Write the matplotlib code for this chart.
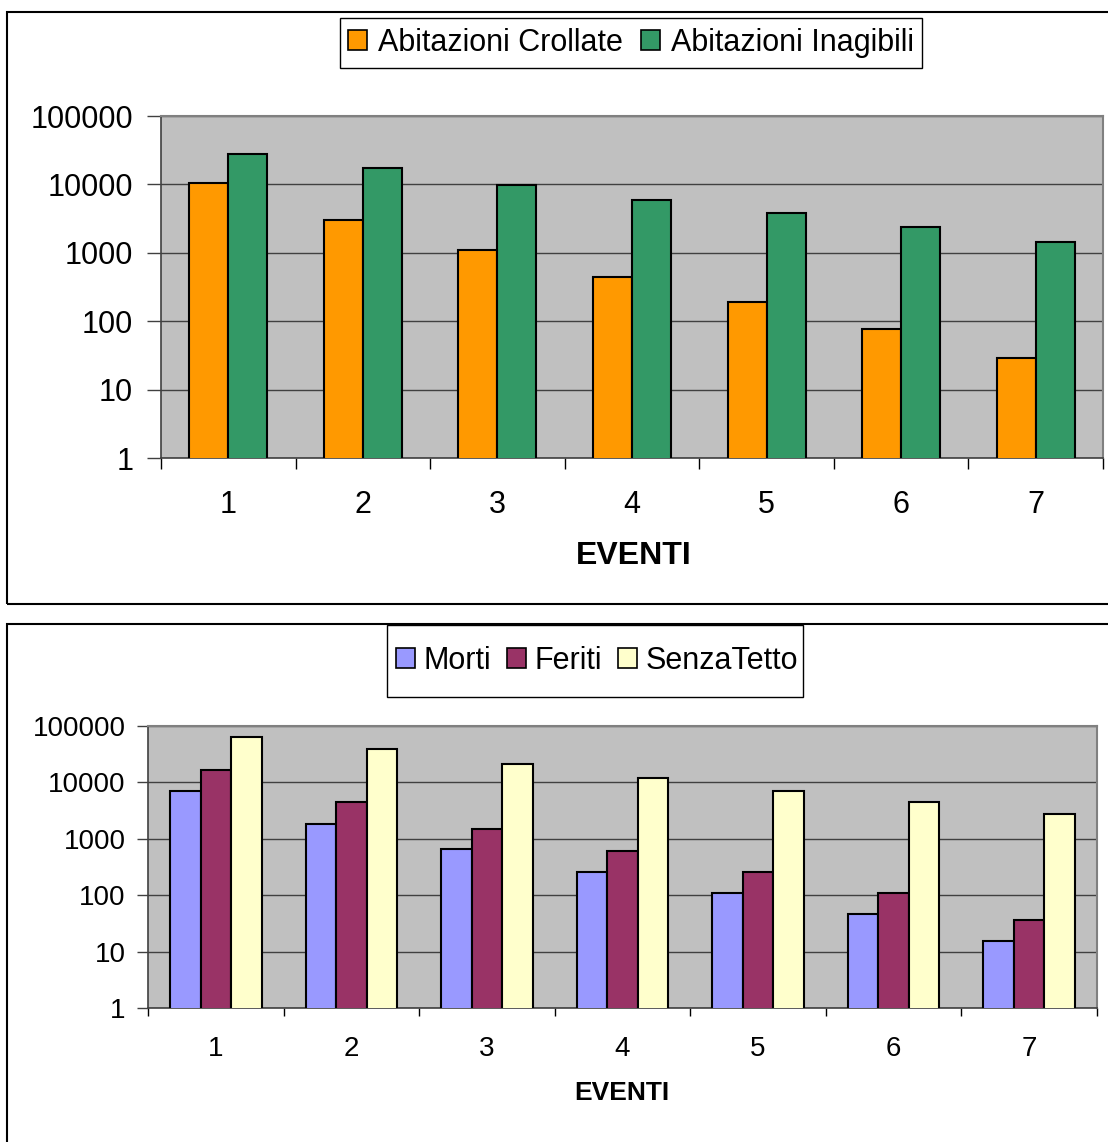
"""Two log-scale bar charts: abitazioni crollate/inagibili and morti/feriti/senzatetto per evento."""

import matplotlib
import matplotlib.pyplot as plt
import numpy as np
from matplotlib.patches import Patch, Rectangle

matplotlib.use("Agg")

plt.rcParams["font.family"] = ["Liberation Sans", "DejaVu Sans"]

W, H = 1108, 1142

eventi = ["1", "2", "3", "4", "5", "6", "7"]

crollate = [10500, 3000, 1100, 440, 190, 77, 29]
inagibili = [27500, 17400, 9800, 5900, 3800, 2400, 1440]

morti = [7000, 1820, 660, 260, 110, 47, 15.5]
feriti = [16600, 4500, 1500, 610, 260, 110, 36]
senzatetto = [63500, 39000, 21000, 12000, 7000, 4500, 2750]

y_ticks = [1, 10, 100, 1000, 10000, 100000]
y_labels = ["1", "10", "100", "1000", "10000", "100000"]


def px_axes(fig, left, top, right, bottom):
    return fig.add_axes([left / W, 1 - bottom / H, (right - left) / W, (bottom - top) / H])


def px_box(fig, left, top, right, bottom, lw=1.0):
    fig.patches.append(Rectangle((left / W, 1 - bottom / H), (right - left) / W, (bottom - top) / H,
                                 transform=fig.transFigure, fill=False, edgecolor="black",
                                 linewidth=lw, zorder=5))


def style_axes(ax, fontsize, ytick_len, ytick_pad, xpad):
    ax.set_facecolor("#C0C0C0")
    ax.set_yscale("log")
    ax.set_ylim(1, 100000)
    ax.set_xlim(-0.5, len(eventi) - 0.5)
    ax.set_yticks(y_ticks)
    ax.set_yticklabels(y_labels)
    ax.yaxis.set_minor_locator(matplotlib.ticker.NullLocator())
    ax.set_xticks(np.arange(len(eventi)))
    ax.set_xticklabels(eventi)
    ax.set_xticks(np.arange(len(eventi) + 1) - 0.5, minor=True)
    ax.tick_params(axis="x", which="major", length=0, labelsize=fontsize, pad=xpad)
    ax.tick_params(axis="x", which="minor", length=ytick_len - 2, width=1, color="#000000", direction="out")
    ax.tick_params(axis="y", which="major", length=ytick_len, width=1, color="#404040",
                   labelsize=fontsize, pad=ytick_pad)
    ax.grid(axis="y", which="major", color="#404040", linewidth=1.0)
    ax.set_axisbelow(True)
    for side in ("top", "right"):
        ax.spines[side].set_color("#808080")
        ax.spines[side].set_linewidth(1.5)
    for side in ("left", "bottom"):
        ax.spines[side].set_color("#404040")
        ax.spines[side].set_linewidth(1.2)


def main() -> None:
    fig = plt.figure(figsize=(W / 100, H / 100), dpi=100)
    fig.patch.set_facecolor("white")

    # panel frames
    fig.patches.append(Rectangle((7 / W, 1 - 604 / H), 1.2, (604 - 12) / H, transform=fig.transFigure,
                                 fill=False, edgecolor="#000000", linewidth=1.5))
    fig.patches.append(Rectangle((7 / W, -0.1), 1.2, 0.1 + (1142 - 624) / H, transform=fig.transFigure,
                                 fill=False, edgecolor="#000000", linewidth=1.5))

    # top chart
    ax1 = px_axes(fig, 161, 116, 1103, 458)
    x = np.arange(len(eventi))
    bw = 0.29
    ax1.bar(x - bw / 2, crollate, bw, color="#FF9900", edgecolor="black", linewidth=1.5, zorder=3)
    ax1.bar(x + bw / 2, inagibili, bw, color="#339966", edgecolor="black", linewidth=1.5, zorder=3)
    style_axes(ax1, 22, 10, 10, 23)
    fig.text(634 / W, 1 - 556 / H, "EVENTI", ha="center", va="center", fontsize=23, fontweight="bold")

    h1 = [Patch(facecolor="#FF9900", edgecolor="black", linewidth=1.2),
          Patch(facecolor="#339966", edgecolor="black", linewidth=1.2)]
    fig.legend(h1, ["Abitazioni Crollate", "Abitazioni Inagibili"], loc="center",
               bbox_to_anchor=(631 / W, 1 - 43 / H), ncol=2, fontsize=22, frameon=False,
               handlelength=0.62, handleheight=0.62, handletextpad=0.35,
               columnspacing=0.6, borderpad=0.3, borderaxespad=0)
    px_box(fig, 340, 18, 922, 68)

    # bottom chart
    ax2 = px_axes(fig, 148, 726, 1097, 1008)
    bw2 = 0.225
    ax2.bar(x - bw2, morti, bw2, color="#9999FF", edgecolor="black", linewidth=1.5, zorder=3)
    ax2.bar(x, feriti, bw2, color="#993366", edgecolor="black", linewidth=1.5, zorder=3)
    ax2.bar(x + bw2, senzatetto, bw2, color="#FFFFCC", edgecolor="black", linewidth=1.5, zorder=3)
    style_axes(ax2, 20, 8, 8, 20)
    fig.text(622 / W, 1 - 1093 / H, "EVENTI", ha="center", va="center", fontsize=19, fontweight="bold")

    h2 = [Patch(facecolor="#9999FF", edgecolor="black", linewidth=1.2),
          Patch(facecolor="#993366", edgecolor="black", linewidth=1.2),
          Patch(facecolor="#FFFFCC", edgecolor="black", linewidth=1.2)]
    fig.legend(h2, ["Morti", "Feriti", "SenzaTetto"], loc="center",
               bbox_to_anchor=(597 / W, 1 - 661 / H), ncol=3, fontsize=22, frameon=False,
               handlelength=0.62, handleheight=0.62, handletextpad=0.3,
               columnspacing=0.5, borderpad=0.2, borderaxespad=0)
    px_box(fig, 387, 625, 803, 697)

    fig.savefig("out.png", dpi=100, facecolor=fig.get_facecolor())
    plt.close(fig)


if __name__ == "__main__":
    main()
